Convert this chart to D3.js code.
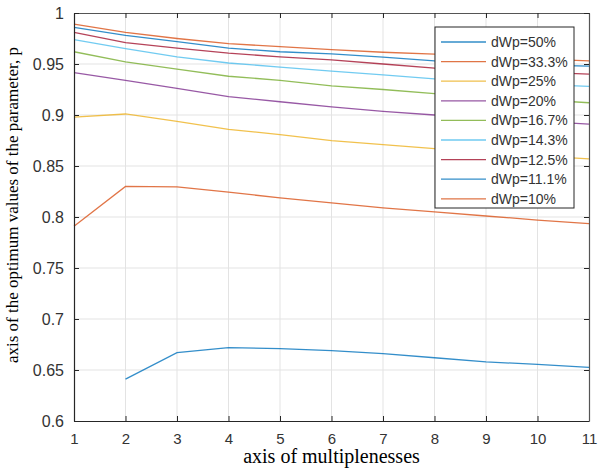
<!DOCTYPE html>
<html>
<head>
<meta charset="utf-8">
<script src="https://cdn.jsdelivr.net/npm/d3@7.9.0/dist/d3.min.js"></script>
<style>
  body { margin: 0; background: #fff; }
  svg { display: block; }
  .tick text { font-family: "Liberation Sans", Arial, sans-serif; fill: #333; }
</style>
</head>
<body>
<svg id="chart" width="598" height="470"></svg>
<script>
const multiplenesses = [1, 2, 3, 4, 5, 6, 7, 8, 9, 10, 11];
const seriesNames = ["dWp=50%", "dWp=33.3%", "dWp=25%", "dWp=20%", "dWp=16.7%", "dWp=14.3%", "dWp=12.5%", "dWp=11.1%", "dWp=10%"];

// values (null = no point)
const dWp50   = [null, 0.641, 0.667, 0.672, 0.671, 0.669, 0.666, 0.662, 0.658, 0.6555, 0.6525];
const dWp333  = [0.791, 0.830, 0.8295, 0.8243, 0.8188, 0.8139, 0.809, 0.805, 0.801, 0.797, 0.7935];
const dWp25   = [0.898, 0.901, 0.8937, 0.886, 0.8807, 0.8748, 0.871, 0.867, 0.863, 0.860, 0.857];
const dWp20   = [0.9416, 0.934, 0.926, 0.918, 0.913, 0.908, 0.9035, 0.900, 0.897, 0.894, 0.891];
const dWp167  = [0.962, 0.952, 0.945, 0.938, 0.934, 0.9286, 0.925, 0.921, 0.918, 0.915, 0.912];
const dWp143  = [0.974, 0.965, 0.957, 0.951, 0.947, 0.943, 0.9394, 0.9355, 0.933, 0.930, 0.928];
const dWp125  = [0.981, 0.971, 0.9655, 0.9606, 0.957, 0.954, 0.950, 0.946, 0.944, 0.942, 0.940];
const dWp111  = [0.986, 0.978, 0.972, 0.9655, 0.962, 0.960, 0.9567, 0.953, 0.951, 0.949, 0.948];
const dWp10   = [0.989, 0.981, 0.975, 0.970, 0.967, 0.964, 0.9615, 0.9596, 0.957, 0.955, 0.953];

const allSeries = [dWp50, dWp333, dWp25, dWp20, dWp167, dWp143, dWp125, dWp111, dWp10];
const colors = ["#0072BD", "#D95319", "#EDB120", "#7E2F8E", "#77AC30", "#4DBEEE", "#A2142F", "#0072BD", "#D95319"];

const yTicks = [0.6, 0.65, 0.7, 0.75, 0.8, 0.85, 0.9, 0.95, 1];
const xTicks = multiplenesses;

const svg = d3.select("#chart");
const m = { left: 74, right: 589, top: 13, bottom: 421 };

const x = d3.scaleLinear().domain([1, 11]).range([m.left, m.right]);
const y = d3.scaleLinear().domain([0.6, 1]).range([m.bottom, m.top]);

// grid
const grid = svg.append("g");
grid.selectAll(".gx").data(xTicks.slice(1, -1)).join("line")
  .attr("x1", d => x(d)).attr("x2", d => x(d))
  .attr("y1", m.top).attr("y2", m.bottom)
  .attr("stroke", "#e3e3e3").attr("stroke-width", 1);
grid.selectAll(".gy").data(yTicks.slice(1, -1)).join("line")
  .attr("x1", m.left).attr("x2", m.right)
  .attr("y1", d => y(d)).attr("y2", d => y(d))
  .attr("stroke", "#e3e3e3").attr("stroke-width", 1);

// lines
const line = d3.line()
  .defined(d => d[1] != null)
  .x(d => x(d[0])).y(d => y(d[1]));

allSeries.forEach((vals, i) => {
  svg.append("path")
    .datum(multiplenesses.map((k, j) => [k, vals[j]]))
    .attr("d", line)
    .attr("fill", "none")
    .attr("stroke", colors[i])
    .attr("stroke-width", 1.3)
    .attr("opacity", 0.8);
});

// axes (inward ticks, boxed)
const tickFmt = d => String(+d.toFixed(2));
const axisColor = "#262626";

const xAxis = svg.append("g").attr("transform", `translate(0,${m.bottom})`)
  .call(d3.axisBottom(x).tickValues(xTicks).tickFormat(d3.format("d")).tickSizeInner(-5).tickSizeOuter(0).tickPadding(12));
const xTop = svg.append("g").attr("transform", `translate(0,${m.top})`)
  .call(d3.axisTop(x).tickValues(xTicks).tickFormat("").tickSizeInner(-5).tickSizeOuter(0));
const yAxis = svg.append("g").attr("transform", `translate(${m.left},0)`)
  .call(d3.axisLeft(y).tickValues(yTicks).tickFormat(tickFmt).tickSizeInner(-5).tickSizeOuter(0).tickPadding(10));
const yRight = svg.append("g").attr("transform", `translate(${m.right},0)`)
  .call(d3.axisRight(y).tickValues(yTicks).tickFormat("").tickSizeInner(-5).tickSizeOuter(0));

[xAxis, xTop, yAxis, yRight].forEach(g => {
  g.select(".domain").attr("stroke", axisColor).attr("stroke-width", 1.2);
  g.selectAll(".tick line").attr("stroke", axisColor);
});
xTop.select(".domain").attr("stroke", "#555");
yRight.select(".domain").attr("stroke", "#555");
xAxis.selectAll(".tick text").style("font-size", "15px");
yAxis.selectAll(".tick text").style("font-size", "16px");

// axis titles
svg.append("text")
  .attr("x", (m.left + m.right) / 2).attr("y", 463)
  .attr("text-anchor", "middle")
  .style("font-family", "'Liberation Serif', 'Times New Roman', serif")
  .style("font-size", "20px").attr("fill", "#000")
  .text("axis of multiplenesses");

svg.append("text")
  .attr("transform", `translate(18,205) rotate(-90)`)
  .attr("text-anchor", "middle")
  .style("font-family", "'Liberation Serif', 'Times New Roman', serif")
  .style("font-size", "17px").attr("fill", "#000")
  .text("axis of the optimum values of the parameter, p");

// legend
const lg = svg.append("g").attr("transform", "translate(435,27)");
lg.append("rect").attr("width", 139).attr("height", 181)
  .attr("fill", "#fff").attr("stroke", "#262626").attr("stroke-width", 1);
seriesNames.forEach((name, i) => {
  const row = lg.append("g").attr("transform", `translate(0,${15 + i * 19.6})`);
  row.append("line").attr("x1", 6).attr("x2", 51).attr("y1", 0).attr("y2", 0)
    .attr("stroke", colors[i]).attr("stroke-width", 1.3).attr("opacity", 0.8);
  row.append("text").attr("x", 56).attr("y", 5)
    .style("font-family", "'Liberation Sans', Arial, sans-serif")
    .style("font-size", "14px").attr("fill", "#333")
    .text(name);
});
</script>
</body>
</html>
